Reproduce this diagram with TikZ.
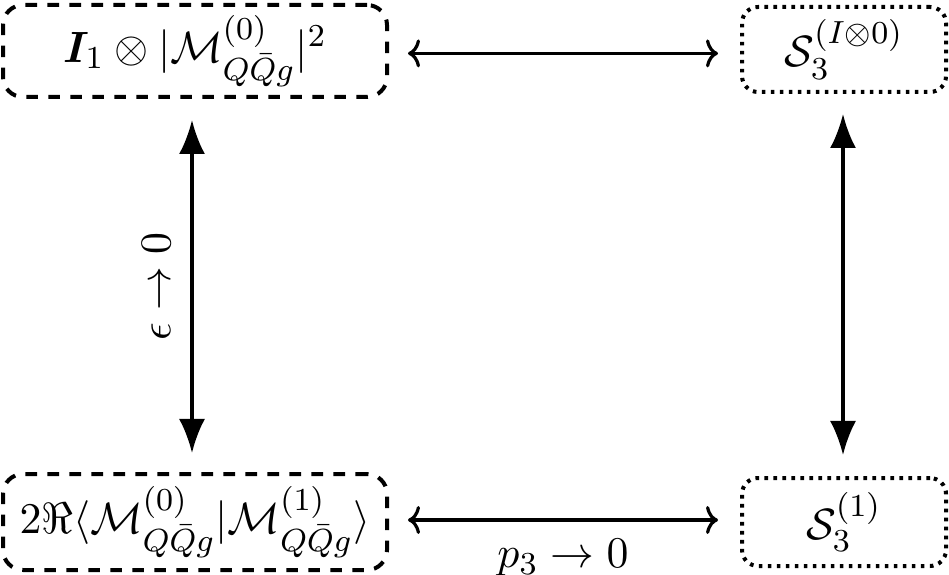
\documentclass[tikz,border=0pt]{standalone}
\usepackage{amsmath}
\usepackage{bm}
\usetikzlibrary{arrows.meta}
\begin{document}
\begin{tikzpicture}[x=0.25pt,y=-0.25pt,
  every node/.style={font=\fontsize{10.8pt}{13pt}\selectfont},
  dashbox/.style={draw, line width=1pt, dash pattern=on 2.9pt off 2.6pt, rounded corners=5pt, inner sep=0pt},
  dotbox/.style={draw, line width=1pt, dash pattern=on 0.9pt off 1.35pt, rounded corners=4pt, inner sep=0pt},
  harrow/.style={line width=0.8pt, {To[length=3pt,width=7pt]}-{To[length=3pt,width=7pt]}},
  varrow/.style={line width=0.8pt, {Latex[length=8.5pt,width=6.5pt]}-{Latex[length=8.5pt,width=6.5pt]}},
  lab/.style={inner sep=0pt}]
\useasboundingbox (0,0) rectangle (949,575);
\node[dashbox, minimum width=96pt, minimum height=23pt] (tl) at (195,51)
  {$\bm{I}_1\otimes|\mathcal{M}^{(0)}_{Q\bar{Q}g}|^2$};
\node[dashbox, minimum width=96pt, minimum height=24pt] (bl) at (195,522)
  {$2\Re\langle\mathcal{M}^{(0)}_{Q\bar{Q}g}|\mathcal{M}^{(1)}_{Q\bar{Q}g}\rangle$};
\node[dotbox, minimum width=51pt, minimum height=21.25pt] (tr) at (844,49.5)
  {$\mathcal{S}_3^{(I\otimes0)}$};
\node[dotbox, minimum width=51pt, minimum height=22pt] (br) at (844,522)
  {$\mathcal{S}_3^{(1)}$};
\coordinate (a1) at ([xshift=4.75pt,yshift=-0.6pt]tl.east);
\coordinate (a2) at ([xshift=-5.5pt]a1 -| tr.west);
\draw[harrow] (a1) -- (a2);
\coordinate (b1) at ([xshift=4.75pt,yshift=0.5pt]bl.east);
\coordinate (b2) at ([xshift=-5.5pt]b1 -| br.west);
\draw[harrow] (b1) -- (b2) node[lab, midway, below=4.5pt] {$p_3\to0$};
\coordinate (c1) at ([xshift=-0.75pt,yshift=-5.25pt]tl.south);
\coordinate (c2) at ([yshift=4.75pt]c1 |- bl.north);
\draw[varrow] (c1) -- (c2) node[lab, midway, left=5pt, rotate=90, anchor=south] {$\epsilon\to0$};
\coordinate (d1) at ([xshift=-0.25pt,yshift=-5pt]tr.south);
\coordinate (d2) at ([yshift=5.25pt]d1 |- br.north);
\draw[varrow] (d1) -- (d2);
\end{tikzpicture}
\end{document}
